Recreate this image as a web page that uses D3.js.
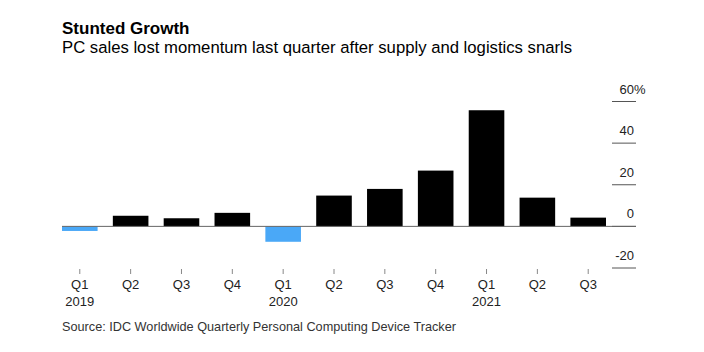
<!DOCTYPE html>
<html>
<head>
<meta charset="utf-8">
<script src="https://cdn.jsdelivr.net/npm/d3@7"></script>
<style>
  body { margin: 0; background: #fff; }
  text { font-family: "Liberation Sans", Arial, sans-serif; }
</style>
</head>
<body>
<div id="chart"></div>
<script>
// data (PC shipments, % change y/y)
var quarters = ["Q1", "Q2", "Q3", "Q4", "Q1", "Q2", "Q3", "Q4", "Q1", "Q2", "Q3"];
var years = ["2019", "", "", "", "2020", "", "", "", "2021", "", ""];
var growth = [-2.2, 5.1, 3.9, 6.5, -7.4, 14.8, 18.0, 26.8, 55.8, 13.8, 4.2];
var yTicks = [60, 40, 20, 0, -20];

var W = 704, H = 352;

var svg = d3.select("#chart")
  .append("svg")
    .attr("width", W)
    .attr("height", H);

// title + subtitle
svg.append("text")
  .attr("x", 62).attr("y", 34)
  .style("font-size", "17px").style("font-weight", "bold").style("fill", "#000")
  .text("Stunted Growth");
svg.append("text")
  .attr("x", 62).attr("y", 53)
  .style("font-size", "16.7px").style("fill", "#000")
  .text("PC sales lost momentum last quarter after supply and logistics snarls");

// scales
var x = d3.scaleBand()
  .domain(d3.range(growth.length))
  .range([62, 606])
  .paddingInner(0.3)
  .paddingOuter(0);

var y = d3.scaleLinear()
  .domain([-20, 60])
  .range([268, 101.5]);

// short gridlines + labels on the right
var grid = svg.append("g");
grid.selectAll("line")
  .data(yTicks)
  .enter()
  .append("line")
    .attr("x1", 612).attr("x2", 636)
    .attr("y1", function(d) { return y(d); })
    .attr("y2", function(d) { return y(d); })
    .style("stroke", "#555").style("stroke-width", 1);
grid.selectAll("text")
  .data(yTicks)
  .enter()
  .append("text")
    .attr("x", 634)
    .attr("y", function(d) { return y(d) - 8; })
    .attr("text-anchor", "end")
    .style("font-size", "13px").style("fill", "#222")
    .text(function(d) { return d; });
// the % hangs past the right edge of the numbers
svg.append("text")
  .attr("x", 634).attr("y", y(60) - 8)
  .style("font-size", "13px").style("fill", "#222")
  .text("%");

// bars
svg.selectAll("rect.bar")
  .data(growth)
  .enter()
  .append("rect")
    .attr("class", "bar")
    .attr("x", function(d, i) { return x(i); })
    .attr("width", x.bandwidth())
    .attr("y", function(d) { return y(Math.max(0, d)); })
    .attr("height", function(d) { return Math.abs(y(d) - y(0)); })
    .style("fill", function(d) { return d < 0 ? "#4aa8f7" : "#000"; });

// zero line across the plot
svg.append("line")
  .attr("x1", 62).attr("x2", 636)
  .attr("y1", y(0)).attr("y2", y(0))
  .style("stroke", "#666").style("stroke-width", 1);

// x axis: little ticks, quarter and year labels
var xa = svg.append("g");
xa.selectAll("line")
  .data(quarters)
  .enter()
  .append("line")
    .attr("x1", function(d, i) { return x(i) + x.bandwidth() / 2; })
    .attr("x2", function(d, i) { return x(i) + x.bandwidth() / 2; })
    .attr("y1", 269).attr("y2", 274)
    .style("stroke", "#888");
xa.selectAll("text.q")
  .data(quarters)
  .enter()
  .append("text")
    .attr("class", "q")
    .attr("x", function(d, i) { return x(i) + x.bandwidth() / 2; })
    .attr("y", 289)
    .attr("text-anchor", "middle")
    .style("font-size", "13px").style("fill", "#222")
    .text(function(d) { return d; });
xa.selectAll("text.yr")
  .data(years)
  .enter()
  .append("text")
    .attr("class", "yr")
    .attr("x", function(d, i) { return x(i) + x.bandwidth() / 2; })
    .attr("y", 306)
    .attr("text-anchor", "middle")
    .style("font-size", "13px").style("fill", "#222")
    .text(function(d) { return d; });

// source
svg.append("text")
  .attr("x", 62).attr("y", 331)
  .style("font-size", "12.7px").style("fill", "#333")
  .text("Source: IDC Worldwide Quarterly Personal Computing Device Tracker");
</script>
</body>
</html>
